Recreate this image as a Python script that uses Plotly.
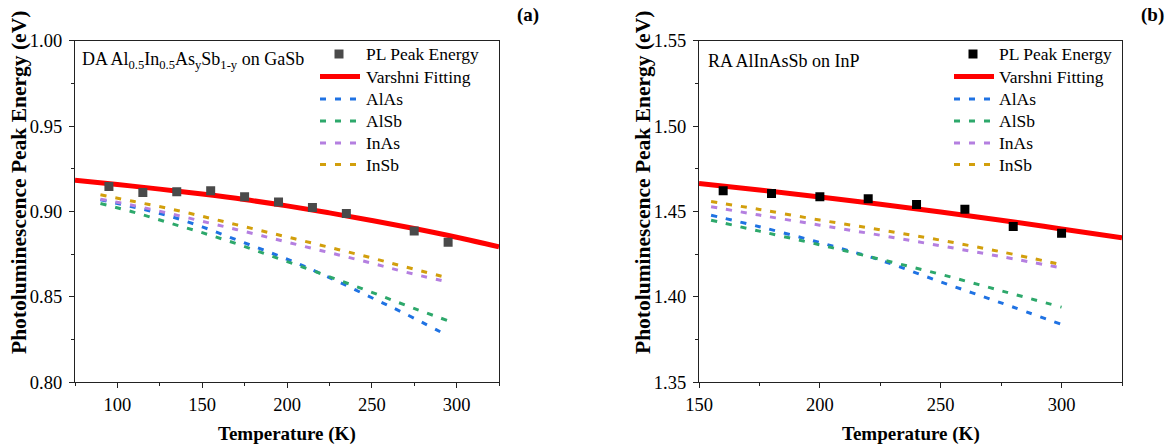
import plotly.graph_objects as go

# ---- Panel (a): DA Al0.5In0.5AsySb1-y on GaSb ----
T_pl_a = [95, 115, 135, 155, 175, 195, 215, 235, 275, 295]
E_pl_a = [0.9146, 0.9111, 0.9115, 0.9121, 0.9086, 0.9056, 0.9023, 0.8988, 0.8886, 0.8820]

T_fit_a = [75, 100, 125, 150, 175, 200, 225, 250, 275, 300, 325]
E_fit_a = [0.9183, 0.9158, 0.9131, 0.9102, 0.9070, 0.9033, 0.8992, 0.8947, 0.8900, 0.8849, 0.8793]

T_cmp_a = [90, 110, 130, 150, 170, 190, 210, 230, 250, 270, 295]
AlAs_a = [0.9068, 0.9025, 0.8975, 0.8910, 0.8835, 0.8760, 0.8680, 0.8590, 0.8495, 0.8400, 0.8272]
AlSb_a = [0.9047, 0.8995, 0.8935, 0.8876, 0.8812, 0.8742, 0.8672, 0.8600, 0.8527, 0.8451, 0.8360]
InAs_a = [0.9072, 0.9034, 0.8990, 0.8943, 0.8895, 0.8846, 0.8796, 0.8747, 0.8697, 0.8645, 0.8587]
InSb_a = [0.9098, 0.9058, 0.9018, 0.8972, 0.8923, 0.8875, 0.8827, 0.8778, 0.8728, 0.8675, 0.8611]

# ---- Panel (b): RA AlInAsSb on InP ----
T_pl_b = [160, 180, 200, 220, 240, 260, 280, 300]
E_pl_b = [1.4621, 1.4606, 1.4586, 1.4574, 1.4541, 1.4513, 1.4412, 1.4373]

T_fit_b = [150, 175, 200, 225, 250, 275, 300, 325]
E_fit_b = [1.4664, 1.4626, 1.4585, 1.4542, 1.4497, 1.4449, 1.4398, 1.4346]

T_cmp_b = [155, 175, 200, 225, 250, 275, 300]
AlAs_b = [1.4478, 1.4411, 1.4318, 1.4215, 1.4088, 1.3965, 1.3839]
AlSb_b = [1.4449, 1.4385, 1.4305, 1.4220, 1.4132, 1.4036, 1.3940]
InAs_b = [1.4528, 1.4479, 1.4420, 1.4361, 1.4299, 1.4236, 1.4170]
InSb_b = [1.4558, 1.4512, 1.4450, 1.4393, 1.4332, 1.4264, 1.4189]

compound_names = ["AlAs", "AlSb", "InAs", "InSb"]
compound_colors = ["#1f72e3", "#2da86b", "#b47fe0", "#d29f0c"]
legend_labels = ["PL Peak Energy", "Varshni Fitting"] + compound_names

FONT = "Liberation Serif, Times New Roman, serif"
RED = "#ff0000"
DASH = "6px,9px"

W, H = 1170, 447
fig = go.Figure()


def add_panel(xa, ya, T_cmp, cmp_series, T_fit, E_fit, T_pl, E_pl, pt_color):
    for name, vals, col in zip(compound_names, cmp_series, compound_colors):
        fig.add_trace(go.Scatter(
            x=T_cmp, y=vals, mode="lines", name=name, showlegend=False,
            line=dict(color=col, width=3, dash=DASH, shape="spline"),
            xaxis=xa, yaxis=ya))
    fig.add_trace(go.Scatter(
        x=T_fit, y=E_fit, mode="lines", name="Varshni Fitting", showlegend=False,
        line=dict(color=RED, width=5, shape="spline"), xaxis=xa, yaxis=ya))
    fig.add_trace(go.Scatter(
        x=T_pl, y=E_pl, mode="markers", name="PL Peak Energy", showlegend=False,
        marker=dict(symbol="square", size=9, color=pt_color, line=dict(width=0)),
        xaxis=xa, yaxis=ya))


add_panel("x", "y", T_cmp_a, [AlAs_a, AlSb_a, InAs_a, InSb_a],
          T_fit_a, E_fit_a, T_pl_a, E_pl_a, "#4a4a4a")
add_panel("x2", "y2", T_cmp_b, [AlAs_b, AlSb_b, InAs_b, InSb_b],
          T_fit_b, E_fit_b, T_pl_b, E_pl_b, "#000000")

ydom = [(H - 382.3) / H, (H - 40.7) / H]
xdom_a = [75 / W, 499 / W]
xdom_b = [699 / W, 1122 / W]

axis_common = dict(
    showline=True, linecolor="#222222", linewidth=1.3, mirror=True,
    ticks="outside", ticklen=5, tickwidth=1.3, tickcolor="#222222",
    showgrid=False, zeroline=False, automargin=False,
    tickfont=dict(family=FONT, size=18.5, color="#000000"),
)
minor_x = dict(ticks="outside", ticklen=3, dtick=25, tick0=0, tickcolor="#222222", tickwidth=1.3)
minor_y = dict(ticks="outside", ticklen=3, dtick=0.025, tick0=0, tickcolor="#222222", tickwidth=1.3)

fig.update_layout(
    width=W, height=H,
    margin=dict(l=0, r=0, t=0, b=0, autoexpand=False),
    paper_bgcolor="white", plot_bgcolor="white",
    font=dict(family=FONT, color="#000000"),
    showlegend=False,
    xaxis=dict(domain=xdom_a, range=[75, 325], dtick=50, anchor="y",
               minor=minor_x, ticklabelstandoff=0, **axis_common),
    yaxis=dict(domain=ydom, range=[0.80, 1.00], dtick=0.05, tickformat=".2f", anchor="x",
               minor=minor_y, ticklabelstandoff=3, **axis_common),
    xaxis2=dict(domain=xdom_b, range=[150, 325], dtick=50, anchor="y2",
                minor=minor_x, ticklabelstandoff=0, **axis_common),
    yaxis2=dict(domain=ydom, range=[1.35, 1.55], dtick=0.05, tickformat=".2f", anchor="x2",
                minor=minor_y, ticklabelstandoff=3, **axis_common),
)


def px(x):
    return x / W


def py(y):
    return (H - y) / H


annotations = []
shapes = []


def text(t, x, y, size=17.5, xanchor="center", angle=0):
    annotations.append(dict(
        text=t, xref="paper", yref="paper", x=px(x), y=py(y),
        xanchor=xanchor, yanchor="middle", showarrow=False, textangle=angle,
        font=dict(family=FONT, size=size, color="#000000")))


# panel labels
text("<b>(a)</b>", 528, 15, size=19)
text("<b>(b)</b>", 1152, 15, size=19)
# axis titles
for cx in [(75 + 499) / 2, (699 + 1122) / 2]:
    text("<b>Temperature (K)</b>", cx, 434, size=19)
for cx in [19, 643]:
    text("<b>Photoluminescence Peak Energy (eV)</b>", cx, 183, size=21.5, angle=-90)
# sample descriptions
text("DA Al<sub>0.5</sub>In<sub>0.5</sub>As<sub>y</sub>Sb<sub>1-y</sub> on GaSb", 80, 61, size=18, xanchor="left")
text("RA AlInAsSb on InP", 706, 61, size=18, xanchor="left")


# hand-built legends (one per panel)
def legend_block(x0, text_x, pt_color):
    rows = [54, 76.5, 99, 121, 143, 164.5]
    cx = x0 + 19
    shapes.append(dict(type="rect", xref="paper", yref="paper",
                       x0=px(cx - 4.5), x1=px(cx + 4.5), y0=py(rows[0] + 4.5), y1=py(rows[0] - 4.5),
                       fillcolor=pt_color, line=dict(width=0)))
    shapes.append(dict(type="line", xref="paper", yref="paper",
                       x0=px(x0), x1=px(x0 + 40), y0=py(rows[1]), y1=py(rows[1]),
                       line=dict(color=RED, width=5)))
    for r, col in zip(rows[2:], compound_colors):
        shapes.append(dict(type="line", xref="paper", yref="paper",
                           x0=px(x0), x1=px(x0 + 37), y0=py(r), y1=py(r),
                           line=dict(color=col, width=3, dash=DASH)))
    for r, lab in zip(rows, legend_labels):
        text(lab, text_x, r, xanchor="left")


legend_block(320, 364, "#4a4a4a")
legend_block(954, 997, "#000000")

fig.update_layout(annotations=annotations, shapes=shapes)

fig.write_html("out.html")
